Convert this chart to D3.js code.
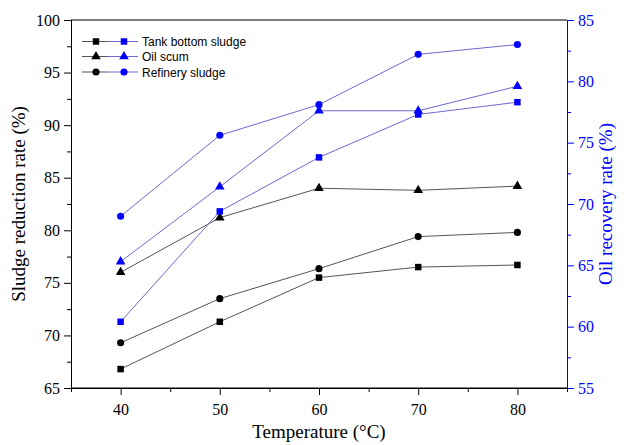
<!DOCTYPE html>
<html><head><meta charset="utf-8">
<script src="https://cdn.jsdelivr.net/npm/d3@7"></script>
<style>body{margin:0;background:#fff}svg{display:block}</style>
</head><body>
<script>
const temps = [40, 50, 60, 70, 80];
const tankReduction = [66.8, 71.3, 75.5, 76.5, 76.7];
const scumReduction = [76.0, 81.2, 84.0, 83.8, 84.2];
const refineryReduction = [69.3, 73.5, 76.35, 79.4, 79.8];
const tankRecovery = [60.4, 69.4, 73.8, 77.3, 78.3];
const scumRecovery = [65.3, 71.4, 77.6, 77.6, 79.6];
const refineryRecovery = [69.0, 75.6, 78.1, 82.2, 83.0];
const xTicks = [40, 50, 60, 70, 80];
const leftTicks = [65, 70, 75, 80, 85, 90, 95, 100];
const rightTicks = [55, 60, 65, 70, 75, 80, 85];
const legendLabels = ["Tank bottom sludge", "Oil scum", "Refinery sludge"];

const W = 624, H = 445;
const L = 71, R = 567, T = 20, B = 388;
const svg = d3.select("body").append("svg").attr("width", W).attr("height", H);
const x = d3.scaleLinear().domain([35, 85]).range([L, R]);
const yL = d3.scaleLinear().domain([65, 100]).range([B, T]);
const yR = d3.scaleLinear().domain([55, 85]).range([B, T]);
const BLUE = "#0000ff";
const serif = "'Liberation Serif','Times New Roman',serif";

// frame top
svg.append("line").attr("x1", L).attr("x2", R).attr("y1", T).attr("y2", T).attr("stroke", "#000");

function styleAxis(g, color, size) {
  g.selectAll("path").attr("stroke", color);
  g.selectAll("line").attr("stroke", color);
  g.selectAll("text").attr("fill", color).attr("font-family", serif).attr("font-size", size);
}
// minor ticks
const gxm = svg.append("g").attr("transform", `translate(0,${B})`)
  .call(d3.axisBottom(x).tickValues(d3.range(35, 86, 5).filter(v => !xTicks.includes(v))).tickSize(4).tickFormat(""));
styleAxis(gxm, "#000", 15);
const gx = svg.append("g").attr("transform", `translate(0,${B})`)
  .call(d3.axisBottom(x).tickValues(xTicks).tickSize(7).tickSizeOuter(0).tickPadding(9).tickFormat(d3.format("d")));
styleAxis(gx, "#000", 16);

const glm = svg.append("g").attr("transform", `translate(${L},0)`)
  .call(d3.axisLeft(yL).tickValues(d3.range(67.5, 100, 5)).tickSize(4).tickFormat(""));
styleAxis(glm, "#000", 15);
const gl = svg.append("g").attr("transform", `translate(${L},0)`)
  .call(d3.axisLeft(yL).tickValues(leftTicks).tickSize(7).tickSizeOuter(0).tickPadding(4).tickFormat(d3.format("d")));
styleAxis(gl, "#000", 16);

const grm = svg.append("g").attr("transform", `translate(${R},0)`)
  .call(d3.axisRight(yR).tickValues(d3.range(57.5, 85, 5)).tickSize(4).tickFormat(""));
styleAxis(grm, BLUE, 15);
const gr = svg.append("g").attr("transform", `translate(${R},0)`)
  .call(d3.axisRight(yR).tickValues(rightTicks).tickSize(7).tickSizeOuter(0).tickPadding(4).tickFormat(d3.format("d")));
styleAxis(gr, BLUE, 16);
// black bottom-right corner continuation
svg.append("line").attr("x1", L).attr("x2", R).attr("y1", B).attr("y2", B).attr("stroke", "#000");

// axis titles
svg.append("text").attr("x", 319).attr("y", 438).attr("text-anchor", "middle")
  .attr("font-family", serif).attr("font-size", 19).text("Temperature (\u00B0C)");
svg.append("text").attr("transform", `translate(25,${(T + B) / 2}) rotate(-90)`).attr("text-anchor", "middle")
  .attr("font-family", serif).attr("font-size", 19).text("Sludge reduction rate (%)");
svg.append("text").attr("transform", `translate(612,${(T + B) / 2}) rotate(-90)`).attr("text-anchor", "middle")
  .attr("font-family", serif).attr("font-size", 19).attr("fill", BLUE).text("Oil recovery rate (%)");

const sym = { square: d3.symbolSquare, triangle: d3.symbolTriangle, circle: d3.symbolCircle };
const symSize = { square: 42, triangle: 40, circle: 40 };
function series(vals, yScale, lineColor, markColor, shape) {
  const pts = temps.map((t, i) => [x(t), yScale(vals[i])]);
  svg.append("path").attr("d", d3.line()(pts)).attr("fill", "none").attr("stroke", lineColor).attr("stroke-width", 1);
  svg.selectAll(null).data(pts).enter().append("path")
    .attr("transform", d => `translate(${d[0]},${d[1]})`)
    .attr("d", d3.symbol().type(sym[shape]).size(symSize[shape]))
    .attr("fill", markColor);
}
const LB = "#6a6ad0", LK = "#555";
series(tankReduction, yL, LK, "#000", "square");
series(scumReduction, yL, LK, "#000", "triangle");
series(refineryReduction, yL, LK, "#000", "circle");
series(tankRecovery, yR, LB, BLUE, "square");
series(scumRecovery, yR, LB, BLUE, "triangle");
series(refineryRecovery, yR, LB, BLUE, "circle");

// legend
const shapes = ["square", "triangle", "circle"];
const rowsY = [41.5, 56.5, 72];
legendLabels.forEach((lab, i) => {
  const y = rowsY[i];
  const g = svg.append("g");
  g.append("line").attr("x1", 82).attr("x2", 107).attr("y1", y).attr("y2", y).attr("stroke", LK);
  g.append("line").attr("x1", 107).attr("x2", 138).attr("y1", y).attr("y2", y).attr("stroke", LB);
  g.append("path").attr("transform", `translate(96,${y})`).attr("d", d3.symbol().type(sym[shapes[i]]).size(symSize[shapes[i]])).attr("fill", "#000");
  g.append("path").attr("transform", `translate(124,${y})`).attr("d", d3.symbol().type(sym[shapes[i]]).size(symSize[shapes[i]])).attr("fill", BLUE);
  g.append("text").attr("x", 142).attr("y", y + 4.5).attr("font-family", "'Liberation Sans',Arial,sans-serif")
    .attr("font-size", 12).text(lab);
});
</script>
</body></html>
